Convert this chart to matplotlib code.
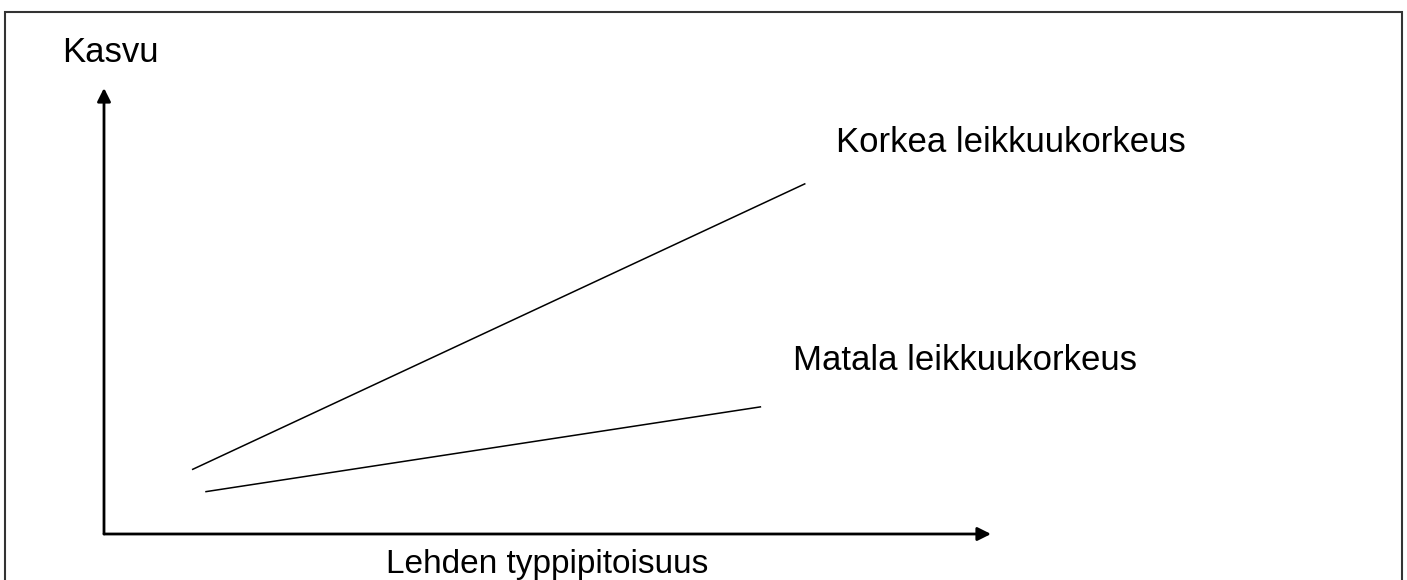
import matplotlib.pyplot as plt
from matplotlib.patches import Rectangle

# Schematic lines (arbitrary units, axes run 0..10)
high_x = [1.0, 7.9]
high_y = [1.45, 7.85]
low_x = [1.15, 7.4]
low_y = [0.95, 2.85]

high_label = 'Korkea leikkuukorkeus'
low_label = 'Matala leikkuukorkeus'
y_label = 'Kasvu'
x_label = 'Lehden typpipitoisuus'

plt.rcParams['font.family'] = ['Liberation Sans', 'DejaVu Sans']

W, H = 1407, 580
fig = plt.figure(figsize=(W / 100, H / 100), dpi=100)

# outer frame
fig.patches.append(Rectangle((5 / W, -0.02), 1397 / W, (580 - 12) / H + 0.02,
                             transform=fig.transFigure, fill=False,
                             edgecolor='#333333', lw=1.5))

ax = fig.add_axes([104 / W, (H - 534) / H, (991 - 104) / W, (534 - 88) / H])
ax.set_xlim(0, 10)
ax.set_ylim(0, 10)
ax.axis('off')

arrow = dict(arrowstyle='-|>', lw=2, color='black', mutation_scale=20,
             shrinkA=0, shrinkB=0)
ax.annotate('', xy=(10, 0), xytext=(0, 0), arrowprops=arrow, annotation_clip=False)
ax.annotate('', xy=(0, 10), xytext=(0, 0), arrowprops=arrow, annotation_clip=False)

ax.plot(high_x, high_y, color='black', lw=1.1)
ax.plot(low_x, low_y, color='black', lw=1.1)

fs = 25
ax.text(8.25, 8.77, high_label, fontsize=fs, ha='left', va='center')
ax.text(7.77, 3.88, low_label, fontsize=fs, ha='left', va='center')

fig.text(62 / W, 1 - 52 / H, y_label, fontsize=fs, ha='left', va='center')
# bottom label sits on the lower edge, descenders run off like in the original
fig.text(547 / W, 1 - 573 / H, x_label, fontsize=24, ha='center', va='baseline')

fig.savefig('out.png', dpi=100)
